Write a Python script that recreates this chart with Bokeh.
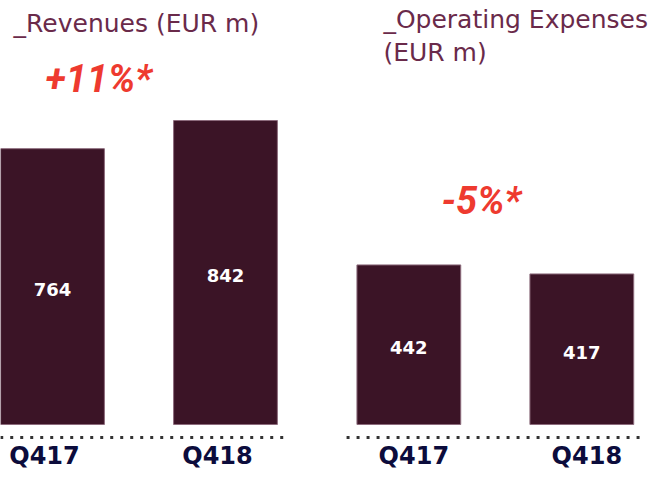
from bokeh.plotting import figure
from bokeh.models import Range1d, ColumnDataSource
from bokeh.core.properties import value
from bokeh.embed import file_html
from bokeh.resources import INLINE

# ---- data ----
quarters = ["Q417", "Q418"]
revenues = [764, 842]
opex = [442, 417]
titles_rev = ["_Revenues (EUR m)"]
titles_opex = ["_Operating Expenses", "(EUR m)"]
changes = ["+11%*", "-5%*"]

BAR = "#3b1426"
EDGE = "#8c6b7c"
TITLE_C = "#6a2a4a"
RED = "#ee3a2f"
NAVY = "#0c0c3c"

GAP = 0.06
rev_x = [i for i in range(len(quarters))]
opex_x = [len(quarters) + GAP + i for i in range(len(quarters))]

p = figure(width=650, height=469, x_range=Range1d(-0.3006, 3.457),
           y_range=Range1d(-124.7, 1174.5), output_backend="svg",
           toolbar_location=None, x_axis_type=None, y_axis_type=None,
           min_border=0)
p.grid.visible = False
p.outline_line_color = None
p.background_fill_color = "white"
p.border_fill_color = "white"

W = 0.6
for xs, vals in ((rev_x, revenues), (opex_x, opex)):
    src = ColumnDataSource(dict(x=xs, top=vals, mid=[v / 2 for v in vals],
                                lab=[str(v) for v in vals], q=quarters))
    p.vbar(x="x", top="top", width=W, bottom=0, source=src,
           fill_color=BAR, line_color=EDGE, line_width=1)
    p.text(x="x", y="mid", text="lab", source=src, text_color="white",
           text_font=value("DejaVu Sans"), text_font_style="bold",
           text_font_size="18px", text_align="center",
           text_baseline="middle", y_offset=3)
    # dotted baseline
    p.segment(x0=[xs[0] - W / 2 - 0.06], x1=[xs[-1] + W / 2 + 0.06],
              y0=[-36], y1=[-36], line_color="#333333", line_width=3,
              line_dash="3 7")

# category labels
for xs, off in ((rev_x, -8), (opex_x, 5)):
    p.text(x=xs, y=[-88.6] * 2, text=quarters, text_color=NAVY,
           text_font=value("DejaVu Sans"), text_font_style="bold",
           text_font_size="24px", text_align="center",
           text_baseline="middle", x_offset=off)

# titles
p.text(x=[rev_x[0] - 0.225], y=[1112], text=titles_rev, text_color=TITLE_C,
       text_font=value("DejaVu Sans"), text_font_size="25px",
       text_align="left", text_baseline="middle")
p.text(x=[opex_x[0] - 0.147] * 2, y=[1123, 1030], text=titles_opex,
       text_color=TITLE_C, text_font=value("DejaVu Sans"),
       text_font_size="25px", text_align="left", text_baseline="middle")

# change labels
FONT_PCT = value("Roboto")
p.text(x=[rev_x[0] - 0.04], y=[958], text=[changes[0]], text_color=RED,
       text_font=FONT_PCT, text_font_style="bold italic",
       text_font_size="38px", text_align="left", text_baseline="middle")
p.text(x=[opex_x[0] + 0.189], y=[618], text=[changes[1]], text_color=RED,
       text_font=FONT_PCT, text_font_style="bold italic",
       text_font_size="38px", text_align="left", text_baseline="middle")

open("out.html", "w").write(file_html(p, INLINE))
